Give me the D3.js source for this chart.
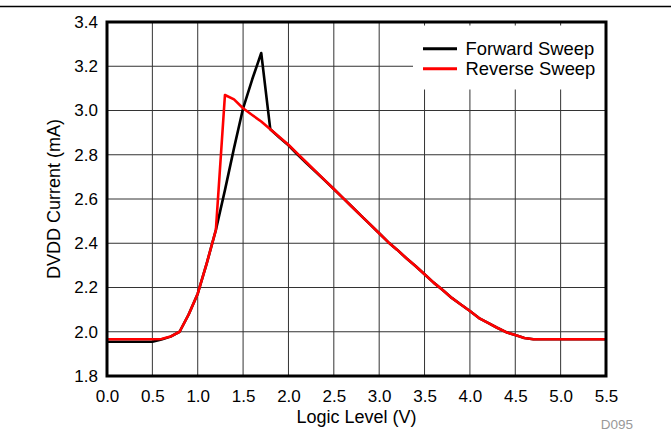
<!DOCTYPE html>
<html><head><meta charset="utf-8">
<script src="https://cdn.jsdelivr.net/npm/d3@7"></script>
<style>body{margin:0;background:#fff}svg{display:block}text{font-family:"Liberation Sans",Arial,sans-serif}</style>
</head><body>
<script>
const xTicks = [0.0,0.5,1.0,1.5,2.0,2.5,3.0,3.5,4.0,4.5,5.0,5.5];
const yTicks = [1.8,2.0,2.2,2.4,2.6,2.8,3.0,3.2,3.4];
const seriesNames = ["Forward Sweep","Reverse Sweep"];
const seriesColors = ["#000000","#ff0000"];
const forwardX = [0.0,0.5,0.6,0.7,0.8,0.9,1.0,1.1,1.2,1.3,1.4,1.5,1.6,1.7,1.8,1.9,2.0,2.1,2.2,2.3,2.4,2.5,2.6,2.7,2.8,2.9,3.0,3.1,3.2,3.3,3.4,3.5,3.6,3.7,3.8,3.9,4.0,4.1,4.2,4.3,4.4,4.5,4.6,4.7,5.0,5.5];
const forwardY = [1.955,1.955,1.965,1.978,2.0,2.078,2.172,2.31,2.46,2.64,2.83,3.01,3.14,3.26,2.915,2.878,2.843,2.801,2.761,2.723,2.684,2.645,2.605,2.565,2.525,2.485,2.445,2.405,2.37,2.332,2.297,2.26,2.222,2.189,2.153,2.123,2.094,2.062,2.04,2.018,1.998,1.985,1.972,1.966,1.966,1.966];
const reverseX = [0.0,0.5,0.6,0.7,0.8,0.9,1.0,1.1,1.2,1.3,1.4,1.5,1.6,1.7,1.8,1.9,2.0,2.1,2.2,2.3,2.4,2.5,2.6,2.7,2.8,2.9,3.0,3.1,3.2,3.3,3.4,3.5,3.6,3.7,3.8,3.9,4.0,4.1,4.2,4.3,4.4,4.5,4.6,4.7,5.0,5.5];
const reverseY = [1.966,1.966,1.967,1.978,2.0,2.078,2.172,2.31,2.46,3.07,3.05,3.01,2.98,2.95,2.915,2.88,2.845,2.805,2.765,2.725,2.685,2.645,2.605,2.565,2.525,2.485,2.445,2.405,2.37,2.332,2.297,2.26,2.222,2.189,2.153,2.123,2.094,2.062,2.04,2.018,1.998,1.985,1.972,1.966,1.966,1.966];

const W = 671, H = 432;
const svg = d3.select("body").append("svg").attr("width", W).attr("height", H);
const x = d3.scaleLinear().domain([0,5.5]).range([107,606]);
const y = d3.scaleLinear().domain([1.8,3.4]).range([376,22]);

// top rule
svg.append("line").attr("x1",0).attr("x2",W).attr("y1",6.5).attr("y2",6.5).attr("stroke","#000").attr("stroke-width",1.5);

// grid
const g = svg.append("g");
g.selectAll(".vx").data(xTicks.slice(1,-1)).join("line")
  .attr("x1",d=>x(d)).attr("x2",d=>x(d)).attr("y1",y(1.8)).attr("y2",y(3.4))
  .attr("stroke","#333").attr("stroke-width",1);
g.selectAll(".hy").data(yTicks.slice(1,-1)).join("line")
  .attr("y1",d=>y(d)).attr("y2",d=>y(d)).attr("x1",x(0)).attr("x2",x(5.5))
  .attr("stroke","#333").attr("stroke-width",1);

// data lines
const line = d3.line().x(d=>x(d[0])).y(d=>y(d[1]));
const series = [d3.zip(forwardX, forwardY), d3.zip(reverseX, reverseY)];
series.forEach((s,i)=>{
  svg.append("path").datum(s).attr("d",line).attr("fill","none")
    .attr("stroke",seriesColors[i]).attr("stroke-width",2.6).attr("stroke-linejoin","round");
});

// legend
svg.append("rect").attr("x",413).attr("y",25.5).attr("width",192).attr("height",64).attr("fill","#fff");
seriesNames.forEach((n,i)=>{
  const yy = 48.7 + i*20;
  svg.append("line").attr("x1",423).attr("x2",457).attr("y1",yy).attr("y2",yy)
    .attr("stroke",seriesColors[i]).attr("stroke-width",3);
  svg.append("text").attr("x",465.5).attr("y",yy+6.6).attr("font-size",18.4).attr("fill","#000").text(n);
});

// border
svg.append("rect").attr("x",x(0)).attr("y",y(3.4)).attr("width",x(5.5)-x(0)).attr("height",y(1.8)-y(3.4))
  .attr("fill","none").attr("stroke","#000").attr("stroke-width",3);

// axes (labels only)
const xAxis = svg.append("g").attr("transform",`translate(0,${y(1.8)})`)
  .call(d3.axisBottom(x).tickValues(xTicks).tickFormat(d3.format(".1f")).tickSize(0).tickPadding(14));
const yAxis = svg.append("g").attr("transform",`translate(${x(0)},0)`)
  .call(d3.axisLeft(y).tickValues(yTicks).tickFormat(d3.format(".1f")).tickSize(0).tickPadding(9));
[xAxis,yAxis].forEach(a=>{
  a.select(".domain").remove();
  a.selectAll("text").attr("font-size",17).attr("fill","#000").attr("font-family","Liberation Sans, Arial, sans-serif");
});

svg.append("text").attr("x",(x(0)+x(5.5))/2).attr("y",423).attr("text-anchor","middle").attr("font-size",18).text("Logic Level (V)");
svg.append("text").attr("transform","translate(60,199) rotate(-90)").attr("text-anchor","middle").attr("font-size",18).text("DVDD Current (mA)");
svg.append("text").attr("x",633).attr("y",428.5).attr("text-anchor","end").attr("font-size",13.5).attr("fill","#999").text("D095");
</script>
</body></html>
